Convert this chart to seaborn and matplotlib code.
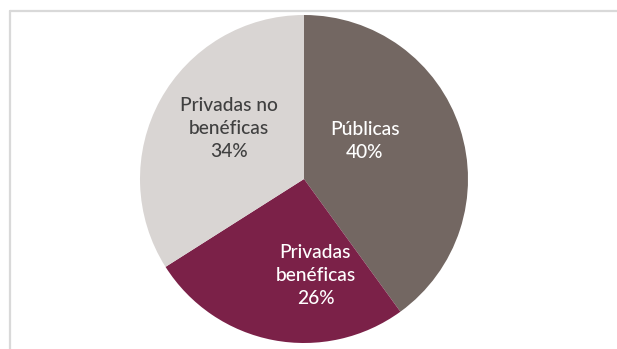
import matplotlib
matplotlib.use("Agg")
import matplotlib.pyplot as plt
from matplotlib.lines import Line2D
import seaborn as sns

# Distribution of institutions by type
categories = ["Públicas", "Privadas\nbenéficas", "Privadas no\nbenéficas"]
shares = [40, 26, 34]
colors = ["#736762", "#7B2148", "#D9D5D3"]
text_colors = ["white", "white", "#404040"]

sns.set_theme(style="white")
plt.rcParams["font.family"] = ["Lato", "DejaVu Sans"]

W, H = 617, 349
fig = plt.figure(figsize=(W / 100, H / 100), dpi=100)
fig.patch.set_facecolor("white")

# Pie: center (304, 179) px, radius 164 px
cx, cy, r = 304, 179, 164
ax = fig.add_axes([(cx - r) / W, (H - cy - r) / H, 2 * r / W, 2 * r / H])
wedges, _ = ax.pie(shares, colors=colors, startangle=90, counterclock=False,
                   radius=1.0, wedgeprops=dict(linewidth=0))
ax.set_xlim(-1, 1)
ax.set_ylim(-1, 1)
ax.set_aspect("equal")
ax.axis("off")

# Label anchors inside each wedge (in radius units)
label_pos = [(0.37, 0.23), (0.07, -0.59), (-0.46, 0.31)]
for cat, val, tc, (x, y) in zip(categories, shares, text_colors, label_pos):
    ax.text(x, y, f"{cat}\n{val}%", ha="center", va="center", color=tc,
            fontsize=13.8, linespacing=1.42, fontweight="medium")

# Frame lines on top and left
lc = "#D9D9D9"
fig.add_artist(Line2D([10 / W, 10 / W], [0, 1 - 11 / H], transform=fig.transFigure,
                      color=lc, linewidth=1.6))
fig.add_artist(Line2D([10 / W, 1], [1 - 11 / H, 1 - 11 / H], transform=fig.transFigure,
                      color=lc, linewidth=1.6))

fig.savefig("out.png", dpi=100, facecolor="white")
